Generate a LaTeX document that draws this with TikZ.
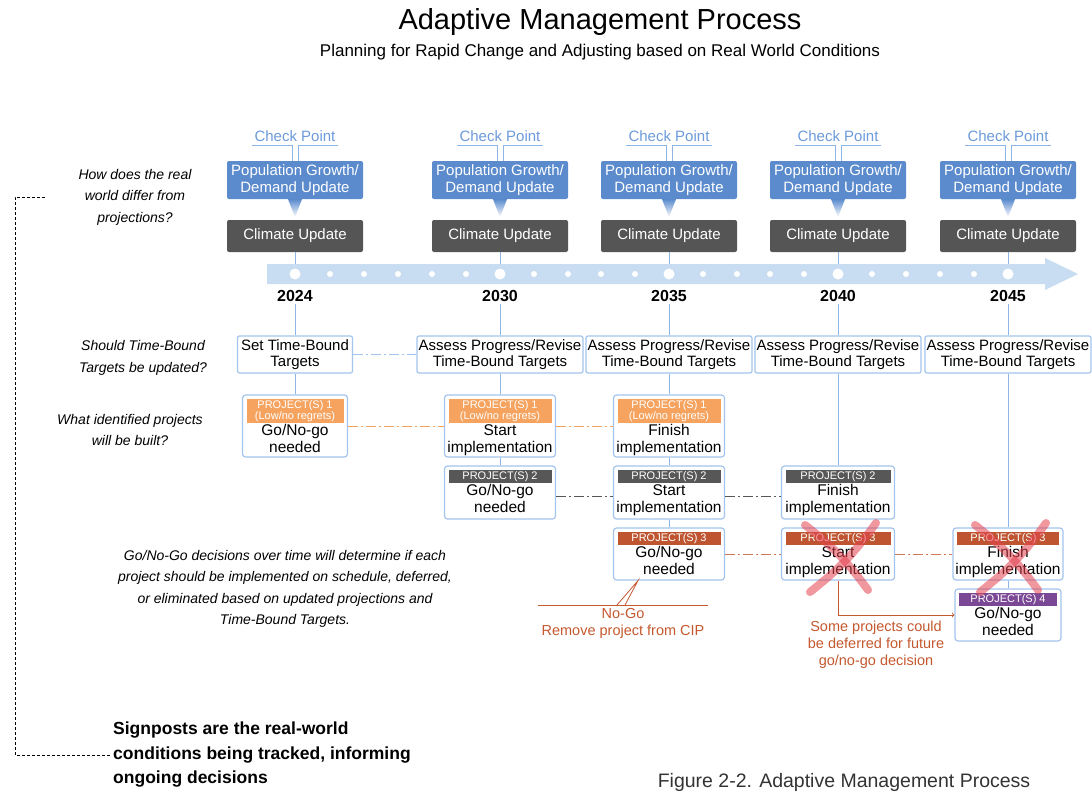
\documentclass[tikz,border=0pt]{standalone}
\usepackage{fontspec}
\setmainfont{Liberation Sans}
\usetikzlibrary{calc}
\definecolor{popblue}{HTML}{5B8BCD}
\definecolor{climgrey}{HTML}{555555}
\definecolor{bandblue}{HTML}{C8DCF2}
\definecolor{lineblue}{HTML}{8DB5E5}
\definecolor{boxblue}{HTML}{A3C4EC}
\definecolor{checkblue}{HTML}{6C9ADA}
\definecolor{projorange}{HTML}{F5A35F}
\definecolor{projgrey}{HTML}{575757}
\definecolor{projrust}{HTML}{BF5530}
\definecolor{projpurple}{HTML}{7B4896}
\definecolor{rusttxt}{HTML}{C4582E}
\definecolor{redx}{HTML}{E5414F}
\tikzset{
	cpoint/.style={text=checkblue, font=\fontsize{15}{17}\selectfont, inner xsep=2pt, inner ysep=4pt},
	popbox/.style={fill=popblue, text=white, rounded corners=2pt, minimum width=136pt, minimum height=38pt, align=center, inner sep=1pt, font=\fontsize{15}{16.5}\selectfont},
	climbox/.style={fill=climgrey, text=white, rounded corners=2pt, minimum width=136pt, minimum height=32pt, font=\fontsize{15}{17}\selectfont},
	yearlabel/.style={font=\bfseries\fontsize{16}{18}\selectfont, inner sep=2pt},
	tbox/.style={draw=boxblue, line width=1.2pt, fill=white, rounded corners=2pt, minimum width=166pt, minimum height=37pt, align=center, inner sep=1pt, font=\fontsize{15}{16.5}\selectfont},
	pbox/.style={draw=boxblue, line width=1.2pt, fill=white, rounded corners=3pt, inner sep=0pt},
	phead/.style={text=white, align=center, inner xsep=0pt, inner ysep=1.5pt, anchor=north, font=\fontsize{11}{11}\selectfont},
	ptext/.style={align=center, inner sep=1pt, anchor=north, font=\fontsize{15.5}{17}\selectfont},
	vline/.style={draw=lineblue, line width=1pt},
	dashdot/.style={dash pattern=on 10pt off 3pt on 2pt off 3pt, line width=0.8pt},
	question/.style={align=center, font=\itshape\fontsize{14}{21.5}\selectfont},
	rusttext/.style={text=rusttxt, align=center, font=\fontsize{14.5}{16.8}\selectfont},
	rustline/.style={draw=rusttxt, line width=0.8pt},
	xmark/.style={draw=redx, line width=8pt, opacity=0.55, line cap=round},
}
\def\project#1(#2)#3#4#5#6#7{%
	\node[pbox, minimum width=#3, minimum height=#4] (#1) at (#2) {};
	\node[phead, fill=#5, minimum width=#3-8pt] (#1h) at ([yshift=-4pt]#1.north) {#6};
	\node[ptext] (#1t) at (#1h.south) {#7};
}

\begin{document}
\begin{tikzpicture}[x=1pt, y=-1pt]
		%%%%% START %%%%%
		\useasboundingbox (0, 0) rectangle (1092, 793);
		
		\node[font=\fontsize{29}{32}\selectfont] (title) at (600, 22) {Adaptive Management Process};
		\node[font=\fontsize{17}{19}\selectfont] (subtitle) at (600, 52) {Planning for Rapid Change and Adjusting based on Real World Conditions};
		
		\fill[bandblue] (267, 264) -- (1045, 264) -- (1045, 258) -- (1078, 274) -- (1045, 290) -- (1045, 284) -- (267, 284) -- cycle;
		\foreach \dx in {330,364,398,432,466,534,568,601,635,703,737,770,804,872,906,940,974}
			\fill[white] (\dx, 274) circle (3pt);
		
		\foreach \yr/\cx in {24/295, 30/500, 35/669, 40/838, 45/1008} {
			\node[cpoint] (ck\yr) at (\cx, 136) {Check Point};
			\node[popbox] (pg\yr) at (\cx, 180) {Population Growth/\\Demand Update};
			\node[climbox] (cu\yr) at (\cx, 236) {Climate Update};
			\node[yearlabel] (y\yr) at (\cx, 296) {20\yr};
			\coordinate (b\yr) at (\cx, 264);
			\fill[white] (\cx, 274) circle (5.5pt);
			\draw[vline] (ck\yr.south west) -- ([xshift=-3pt]ck\yr.south) -- ([xshift=-3pt]pg\yr.north);
			\draw[vline] (ck\yr.south east) -- ([xshift=3pt]ck\yr.south) -- ([xshift=3pt]pg\yr.north);
			\shade[top color=popblue, bottom color=white] ([xshift=-7pt]pg\yr.south) -- ([xshift=7pt]pg\yr.south) -- ([yshift=-18pt]pg\yr.south) -- cycle;
			\draw[vline] (cu\yr) -- (b\yr);
		}
		
		% targets
		\node[tbox, minimum width=115pt] (tb24) at (295, 354.5) {Set Time-Bound\\Targets};
		\node[tbox] (tb30) at (500, 354.5) {Assess Progress/Revise\\Time-Bound Targets};
		\node[tbox] (tb35) at (669, 354.5) {Assess Progress/Revise\\Time-Bound Targets};
		\node[tbox] (tb40) at (838, 354.5) {Assess Progress/Revise\\Time-Bound Targets};
		\node[tbox] (tb45) at (1008, 354.5) {Assess Progress/Revise\\Time-Bound Targets};
		\draw[dashdot, draw=boxblue] (tb24) -- (tb30);
		
		% projects
		\project{p1y24}(295, 426){105pt}{62pt}{projorange}{PROJECT(S) 1\\(Low/no regrets)}{Go/No-go\\needed}
		\project{p1y30}(500, 426){111pt}{62pt}{projorange}{PROJECT(S) 1\\(Low/no regrets)}{Start\\implementation}
		\project{p1y35}(669, 426){111pt}{62pt}{projorange}{PROJECT(S) 1\\(Low/no regrets)}{Finish\\implementation}
		\project{p2y30}(500, 492.5){111pt}{53pt}{projgrey}{PROJECT(S) 2}{Go/No-go\\needed}
		\project{p2y35}(669, 492.5){111pt}{53pt}{projgrey}{PROJECT(S) 2}{Start\\implementation}
		\project{p2y40}(838, 492.5){113pt}{53pt}{projgrey}{PROJECT(S) 2}{Finish\\implementation}
		\project{p3y35}(669, 554){111pt}{52pt}{projrust}{PROJECT(S) 3}{Go/No-go\\needed}
		\project{p3y40}(838, 554){113pt}{52pt}{projrust}{PROJECT(S) 3}{Start\\implementation}
		\project{p3y45}(1008, 554){110pt}{52pt}{projrust}{PROJECT(S) 3}{Finish\\implementation}
		\project{p4y45}(1008, 615){106pt}{52pt}{projpurple}{PROJECT(S) 4}{Go/No-go\\needed}
		
		\draw[vline] (y24) -- (tb24);
		\draw[vline] (y30) -- (tb30);
		\draw[vline] (y35) -- (tb35);
		\draw[vline] (y40) -- (tb40);
		\draw[vline] (y45) -- (tb45);
		\draw[vline] (tb24) -- (p1y24);
		\draw[vline] (tb30) -- (p1y30) -- (p2y30);
		\draw[vline] (tb35) -- (p1y35) -- (p2y35) -- (p3y35);
		\draw[vline] (tb40) -- (p2y40);
		\draw[vline] (tb45) -- (p3y45) -- (p4y45);
		
		\draw[dashdot, draw=projorange] (p1y24) -- (p1y30) -- (p1y35);
		\draw[dashdot, draw=projgrey] ([yshift=-4pt]p2y30.east) -- ([yshift=-4pt]p2y35.west);
		\draw[dashdot, draw=projgrey] ([yshift=-4pt]p2y35.east) -- ([yshift=-4pt]p2y40.west);
		\draw[dashdot, draw=projrust!80] (p3y35) -- (p3y40) -- (p3y45);
		
		\draw[xmark] ($(p3y40)+(-33, -29)$) to[bend left=8] ($(p3y40)+(30, 36)$);
		\draw[xmark] ($(p3y40)+(38, -31)$) to[bend left=8] ($(p3y40)+(-28, 38)$);
		\draw[xmark] ($(p3y45)+(-33, -29)$) to[bend left=8] ($(p3y45)+(30, 36)$);
		\draw[xmark] ($(p3y45)+(38, -31)$) to[bend left=8] ($(p3y45)+(-28, 38)$);
		
		% no-go and deferral notes
		\node[rusttext] (nogo) at (623, 623.5) {No-Go\\Remove project from CIP};
		\coordinate (nogotip) at ([xshift=-31pt]p3y35.south);
		\draw[rustline] (nogo.north west) -- (nogo.north east);
		\draw[rustline] ([xshift=-6pt]nogo.north) -- (nogotip) -- ([xshift=2pt]nogo.north);
		\draw[rustline, ->] (p3y40.south) |- (p4y45.west);
		\node[rusttext] (defer) at (876, 645) {Some projects could\\be deferred for future\\go/no-go decision};
		
		% questions
		\node[question] (qreal) at (135, 197) {How does the real\\world differ from\\projections?};
		\node[question] (qtarget) at (143, 358) {Should Time-Bound\\Targets be updated?};
		\node[question] (qbuilt) at (130, 430) {What identified projects\\will be built?};
		\node[question] (qgonogo) at (285, 589) {Go/No-Go decisions over time will determine if each\\project should be implemented on schedule, deferred,\\or eliminated based on updated projections and\\Time-Bound Targets.};
		
		\node[anchor=west, align=left, inner sep=0pt, font=\bfseries\fontsize{17.5}{24.5}\selectfont] (sign) at (113, 755) {Signposts are the real-world\\conditions being tracked, informing\\ongoing decisions};
		\coordinate (brtop) at (45, 197);
		\draw[dash pattern=on 3pt off 2pt, line width=0.7pt] (brtop) -- (15, 197) |- ([xshift=-3pt]sign.west);
		
		\node[anchor=base, text=black!80, font=\fontsize{19.5}{22}\selectfont] (caption) at (844, 787) {Figure 2-2. Adaptive Management Process};
		
		%%%%% END %%%%%
\end{tikzpicture}
\end{document}
